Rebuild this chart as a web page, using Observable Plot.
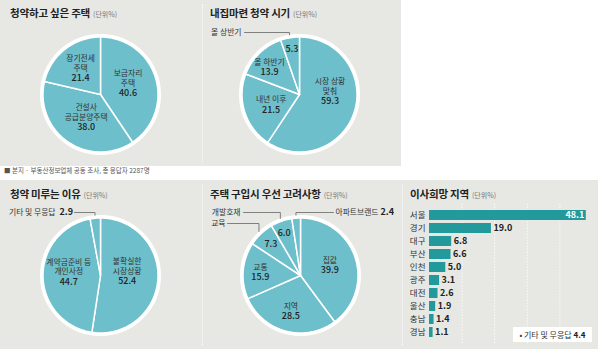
<!DOCTYPE html>
<html><head><meta charset="utf-8">
<script src="https://cdn.jsdelivr.net/npm/d3@7"></script>
<script src="https://cdn.jsdelivr.net/npm/@observablehq/plot@0.6"></script>
<style>
body{margin:0;background:#fff;font-family:"Noto Sans CJK KR",sans-serif;}
#root{position:relative;width:600px;height:351px;overflow:hidden;background:#fff;}
.box{position:absolute;background:#e7e8e3;}
.sep{position:absolute;width:0;border-left:1px dotted #fbfbfa;}
.title{position:absolute;font-size:10.5px;font-weight:700;color:#222;white-space:nowrap;line-height:1;letter-spacing:-0.2px}
.title span{font-size:7px;font-weight:400;color:#777;margin-left:3px;letter-spacing:0}
.panel{position:absolute}
.caption{position:absolute;left:4px;top:167px;font-size:6.5px;color:#555;line-height:1;white-space:nowrap}
.legend{position:absolute;left:513px;top:327px;width:79px;height:15px;background:#fff;font-size:8px;color:#333;line-height:15px;text-align:center;white-space:nowrap}
.legend b{font-weight:700;color:#222}
</style></head>
<body><div id="root">
<div class="box" style="left:0;top:0;width:401px;height:166px"></div>
<div class="box" style="left:0;top:180px;width:598px;height:169px"></div>
<div class="sep" style="left:202px;top:4px;height:158px"></div>
<div class="sep" style="left:202px;top:184px;height:161px"></div>
<div class="sep" style="left:402px;top:184px;height:161px"></div>
<div class="title" style="left:10px;top:8px">청약하고 싶은 주택<span>(단위%)</span></div>
<div class="title" style="left:210px;top:8px">내집마련 청약 시기<span>(단위%)</span></div>
<div class="title" style="left:10px;top:189px">청약 미루는 이유<span>(단위%)</span></div>
<div class="title" style="left:210px;top:189px">주택 구입시 우선 고려사항<span>(단위%)</span></div>
<div class="title" style="left:410px;top:189px">이사희망 지역<span>(단위%)</span></div>
<div class="caption">■ 본지 · 부동산정보업체 공동 조사, 총 응답자 2287명</div>
</div>
<script>
// ---------- data ----------
const wantLabels = ["보금자리\n주택", "건설사\n공급분양주택", "장기전세\n주택"];
const wantValues = [40.6, 38.0, 21.4];
const timingLabels = ["시장 상황\n맞춰", "내년 이후", "올 하반기", "올 상반기"];
const timingValues = [59.3, 21.5, 13.9, 5.3];
const delayLabels = ["불확실한\n시장상황", "계약금준비 등\n개인사정", "기타 및 무응답"];
const delayValues = [52.4, 44.7, 2.9];
const factorLabels = ["집값", "지역", "교통", "교육", "개발호재", "아파트브랜드"];
const factorValues = [39.9, 28.5, 15.9, 7.3, 6.0, 2.4];
const regions = ["서울", "경기", "대구", "부산", "인천", "광주", "대전", "울산", "충남", "경남"];
const regionValues = [48.1, 19.0, 6.8, 6.6, 5.0, 3.1, 2.6, 1.9, 1.4, 1.1];
const otherLabel = "기타 및 무응답";
const otherValue = 4.4;
const gridTicks = [10, 20, 30, 40];

// ---------- layout / style ----------
const PIE = "#6dbfcb", BAR = "#22999a", FONT = "'Noto Sans CJK KR', sans-serif";
const NAME_SIZE = 7.8, VALUE_SIZE = 9;
const root = document.getElementById("root");

function piePlot(labels, values, o) {
  const {W, H, cx, cy, R, layout} = o;
  const arcs = d3.pie().sort(null).value(d => d)(values);
  const pts = [];
  arcs.forEach((a, i) => {
    pts.push({i, x: cx, y: cy});
    const n = Math.max(2, Math.ceil((a.endAngle - a.startAngle) / (Math.PI / 180)));
    for (let k = 0; k <= n; k++) {
      const t = a.startAngle + (a.endAngle - a.startAngle) * k / n;
      pts.push({i, x: cx + R * Math.sin(t), y: cy - R * Math.cos(t)});
    }
  });
  const nameLines = [], valueLines = [], outNames = [], outValues = [], leaders = [];
  const h = 9.8;
  arcs.forEach((a, i) => {
    const L = layout[i];
    const m = (a.startAngle + a.endAngle) / 2;
    if (L.rf != null) {
      const px = cx + L.rf * R * Math.sin(m) + (L.dx || 0);
      const py = cy - L.rf * R * Math.cos(m) + (L.dy || 0);
      const lines = L.valueOnly ? [] : labels[i].split("\n");
      const n = lines.length + 1;
      const top = py - n * h / 2;
      lines.forEach((t, j) => nameLines.push({x: px, y: top + (j + 0.5) * h, text: t}));
      valueLines.push({x: px, y: top + (n - 0.5) * h, text: values[i].toFixed(1)});
    }
    if (L.out) {
      const q = L.out;
      outNames.push({x: q.nameX, y: q.y, text: labels[i], anchor: q.nameAnchor});
      if (q.valueX != null) outValues.push({x: q.valueX, y: q.y, text: values[i].toFixed(1)});
      const ex = cx + (R + 3) * Math.sin(m), ey = cy - (R + 3) * Math.cos(m);
      leaders.push({k: i, x: q.lineX, y: q.y}, {k: i, x: ex, y: q.y}, {k: i, x: ex, y: ey});
    }
  });
  return Plot.plot({
    width: W, height: H, margin: 0,
    x: {domain: [0, W], range: [0, W], axis: null},
    y: {domain: [0, H], range: [0, H], axis: null},
    style: {background: "transparent", fontFamily: FONT},
    marks: [
      Plot.line(pts, {x: "x", y: "y", z: "i", fill: PIE, stroke: "white", strokeWidth: 1.5, curve: "linear-closed", strokeLinejoin: "round"}),
      Plot.dot([{x: cx, y: cy}], {x: "x", y: "y", r: R + 1.5, fill: "none", stroke: "white", strokeWidth: 3}),
      Plot.line(leaders, {x: "x", y: "y", z: "k", stroke: "#666", strokeWidth: 0.8}),
      Plot.text(nameLines, {x: "x", y: "y", text: "text", fontSize: NAME_SIZE, fill: "#333"}),
      Plot.text(valueLines, {x: "x", y: "y", text: "text", fontSize: VALUE_SIZE, fill: "#222", fontWeight: 500}),
      Plot.text(outNames.filter(d => d.anchor === "start"), {x: "x", y: "y", text: "text", textAnchor: "start", fontSize: NAME_SIZE, fill: "#333"}),
      Plot.text(outNames.filter(d => d.anchor === "end"), {x: "x", y: "y", text: "text", textAnchor: "end", fontSize: NAME_SIZE, fill: "#333"}),
      Plot.text(outValues, {x: "x", y: "y", text: "text", textAnchor: "start", fontSize: VALUE_SIZE, fontWeight: 700, fill: "#222"})
    ]
  });
}

function place(node, left, top) {
  const d = document.createElement("div");
  d.className = "panel"; d.style.left = left + "px"; d.style.top = top + "px";
  d.appendChild(node); root.appendChild(d);
}

place(piePlot(wantLabels, wantValues, {W: 200, H: 166, cx: 100, cy: 94, R: 57.5,
  layout: [{rf: .5, dx: 0, dy: -3}, {rf: .5, dx: 2, dy: -1}, {rf: .5, dx: -2, dy: -4}]}), 0, 0);

place(piePlot(timingLabels, timingValues, {W: 200, H: 166, cx: 99, cy: 94, R: 57.5,
  layout: [{rf: .5, dx: 3, dy: -11}, {rf: .5, dx: -1, dy: 1.5}, {rf: .75, dx: 0, dy: 4},
    {rf: .8, valueOnly: true, out: {nameX: 41, nameAnchor: "end", y: 32, lineX: 44}}]}), 200, 0);

place(piePlot(delayLabels, delayValues, {W: 200, H: 169, cx: 100, cy: 95, R: 57.5,
  layout: [{rf: .5, dx: -2, dy: -6}, {rf: .5, dx: -3, dy: -4},
    {out: {nameX: 55, nameAnchor: "end", valueX: 59, y: 32, lineX: 74}}]}), 0, 180);

place(piePlot(factorLabels, factorValues, {W: 200, H: 169, cx: 100, cy: 95, R: 57.5,
  layout: [{rf: .5, dx: 2, dy: -1}, {rf: .65}, {rf: .7},
    {rf: .75, valueOnly: true, out: {nameX: 25, nameAnchor: "end", y: 43, lineX: 27}},
    {rf: .75, dx: -2, dy: -2, valueOnly: true, out: {nameX: 40, nameAnchor: "end", y: 32, lineX: 43}},
    {out: {nameX: 135, nameAnchor: "start", valueX: 180, y: 32, lineX: 133}}]}), 200, 180);

const regionData = regions.map((r, i) => ({region: r, value: regionValues[i], i}));
place(Plot.plot({
  width: 200, height: 171, marginLeft: 29, marginRight: 8, marginTop: 23.6, marginBottom: 6.6,
  x: {domain: [0, 50], axis: null},
  y: {domain: regions, padding: 0.22, label: null, tickSize: 0, tickPadding: 4},
  style: {background: "transparent", fontFamily: FONT, fontSize: "8.5px", color: "#333"},
  marks: [
    Plot.ruleX(gridTicks, {stroke: "#fbfbfa", strokeDasharray: "1.5,1.5", strokeWidth: 1}),
    Plot.barX(regionData, {y: "region", x: "value", fill: BAR}),
    Plot.text(regionData.filter(d => d.i === 0), {y: "region", x: "value", text: d => d.value.toFixed(1), textAnchor: "end", dx: -2, fill: "white", fontWeight: 700, fontSize: 9}),
    Plot.text(regionData.filter(d => d.i > 0), {y: "region", x: "value", text: d => d.value.toFixed(1), textAnchor: "start", dx: 2, fill: "#222", fontWeight: 600, fontSize: 9})
  ]
}), 400, 180);

const lg = document.createElement("div");
lg.className = "legend";
lg.innerHTML = "• " + otherLabel + " <b>" + otherValue.toFixed(1) + "</b>";
root.appendChild(lg);
</script>
</body></html>
